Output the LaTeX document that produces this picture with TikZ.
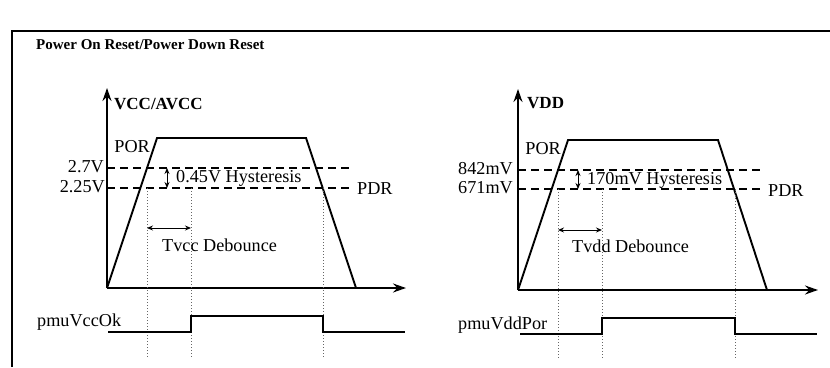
\documentclass[tikz,border=0pt]{standalone}
\usepackage{fontspec}
\setmainfont{Liberation Serif}
\usetikzlibrary{arrows.meta}
\begin{document}
\begin{tikzpicture}[x=1pt,y=-1pt,
  axis/.style={line width=1.9pt,-{Stealth[length=13pt,width=9pt]}},
  wave/.style={line width=1.9pt,line join=miter},
  thr/.style={line width=1.7pt,dash pattern=on 8pt off 5pt},
  guide/.style={line width=0.8pt,black!60,dash pattern=on 1pt off 2pt},
  dimarrow/.style={line width=0.9pt,{Stealth[length=6pt,width=5pt]}-{Stealth[length=6pt,width=5pt]}},
  lbl/.style={inner sep=0pt,font=\fontsize{18.2}{20}\selectfont},
  blbl/.style={inner sep=0pt,font=\fontsize{17}{20}\selectfont\bfseries},
  frame/.style={line width=1.4pt}]
\useasboundingbox (0,0) rectangle (830,367);
% frame
\coordinate (f1) at (12,367);
\coordinate (f2) at (12,31);
\coordinate (f3) at (830,31);
\draw[frame] (f1) -- (f2) -- (f3);
\node[inner sep=0pt,anchor=west,font=\fontsize{15}{18}\selectfont\bfseries] (title) at (36,45) {Power On Reset/Power Down Reset};

% ===== left diagram =====
\coordinate (O1) at (107,288);
\coordinate (Y1) at (107,88);
\coordinate (X1) at (406,288);
\coordinate (A1) at (157,138);
\coordinate (B1) at (306,138);
\coordinate (C1) at (356,288);
\draw[axis] (O1) -- (Y1);
\draw[axis] (O1) -- (X1);
\draw[wave] (O1) -- (A1) -- (B1) -- (C1);
\node[blbl,anchor=west] (vcc) at (114,104) {VCC/AVCC};
% thresholds
\coordinate (t1a) at (107,168);
\coordinate (t1b) at (352,168);
\coordinate (t2a) at (107,188);
\coordinate (t2b) at (352,188);
\draw[thr] (t1a) -- (t1b);
\draw[thr] (t2a) -- (t2b);
\node[lbl,anchor=east] (v27) at (104,167) {2.7V};
\node[lbl,anchor=east] (v225) at (105,187) {2.25V};
\node[lbl,anchor=east] (por1) at (150,147) {POR};
\node[lbl,anchor=west] (pdr1) at (357,189) {PDR};
% hysteresis
\coordinate (h1a) at (167,168);
\coordinate (h1b) at (167,188);
\draw[dimarrow] (h1a) -- (h1b);
\node[lbl,anchor=west] (hys1) at (176,178) {0.45V Hysteresis};
% guides
\coordinate (g1a) at (147,188); \coordinate (g1b) at (147,358);
\coordinate (g2a) at (191,188); \coordinate (g2b) at (191,358);
\coordinate (g3a) at (323,188); \coordinate (g3b) at (323,358);
\draw[guide] (g1a) -- (g1b);
\draw[guide] (g2a) -- (g2b);
\draw[guide] (g3a) -- (g3b);
% debounce
\coordinate (d1a) at (147,228);
\coordinate (d1b) at (191,228);
\draw[dimarrow] (d1a) -- (d1b);
\node[lbl,anchor=west] (deb1) at (162,245) {Tvcc Debounce};
% signal
\coordinate (s1a) at (108,332);
\coordinate (s1b) at (191,332);
\coordinate (s1c) at (191,316);
\coordinate (s1d) at (323,316);
\coordinate (s1e) at (323,332);
\coordinate (s1f) at (405,332);
\draw[wave] (s1a) -- (s1b) -- (s1c) -- (s1d) -- (s1e) -- (s1f);
\node[lbl,anchor=west] (sig1) at (37,322) {pmuVccOk};

% ===== right diagram =====
\coordinate (O2) at (518,290);
\coordinate (Y2) at (518,89);
\coordinate (X2) at (818,290);
\coordinate (A2) at (568,140);
\coordinate (B2) at (718,140);
\coordinate (C2) at (767,290);
\draw[axis] (O2) -- (Y2);
\draw[axis] (O2) -- (X2);
\draw[wave] (O2) -- (A2) -- (B2) -- (C2);
\node[blbl,anchor=west] (vdd) at (527,103) {VDD};
% thresholds
\coordinate (t3a) at (518,170);
\coordinate (t3b) at (764,170);
\coordinate (t4a) at (518,189);
\coordinate (t4b) at (764,189);
\draw[thr] (t3a) -- (t3b);
\draw[thr] (t4a) -- (t4b);
\node[lbl,anchor=east] (v842) at (513,169) {842mV};
\node[lbl,anchor=east] (v671) at (513,188) {671mV};
\node[lbl,anchor=east] (por2) at (561,149) {POR};
\node[lbl,anchor=west] (pdr2) at (768,191) {PDR};
% hysteresis
\coordinate (h2a) at (578,170);
\coordinate (h2b) at (578,189);
\draw[dimarrow] (h2a) -- (h2b);
\node[lbl,anchor=west] (hys2) at (587,180) {170mV Hysteresis};
% guides
\coordinate (g4a) at (558,189); \coordinate (g4b) at (558,358);
\coordinate (g5a) at (602,189); \coordinate (g5b) at (602,358);
\coordinate (g6a) at (735,189); \coordinate (g6b) at (735,358);
\draw[guide] (g4a) -- (g4b);
\draw[guide] (g5a) -- (g5b);
\draw[guide] (g6a) -- (g6b);
% debounce
\coordinate (d2a) at (558,230);
\coordinate (d2b) at (602,230);
\draw[dimarrow] (d2a) -- (d2b);
\node[lbl,anchor=west] (deb2) at (572,246) {Tvdd Debounce};
% signal
\coordinate (s2a) at (520,334);
\coordinate (s2b) at (602,334);
\coordinate (s2c) at (602,318);
\coordinate (s2d) at (735,318);
\coordinate (s2e) at (735,334);
\coordinate (s2f) at (817,334);
\draw[wave] (s2a) -- (s2b) -- (s2c) -- (s2d) -- (s2e) -- (s2f);
\node[lbl,anchor=west] (sig2) at (458,325) {pmuVddPor};
\end{tikzpicture}
\end{document}
